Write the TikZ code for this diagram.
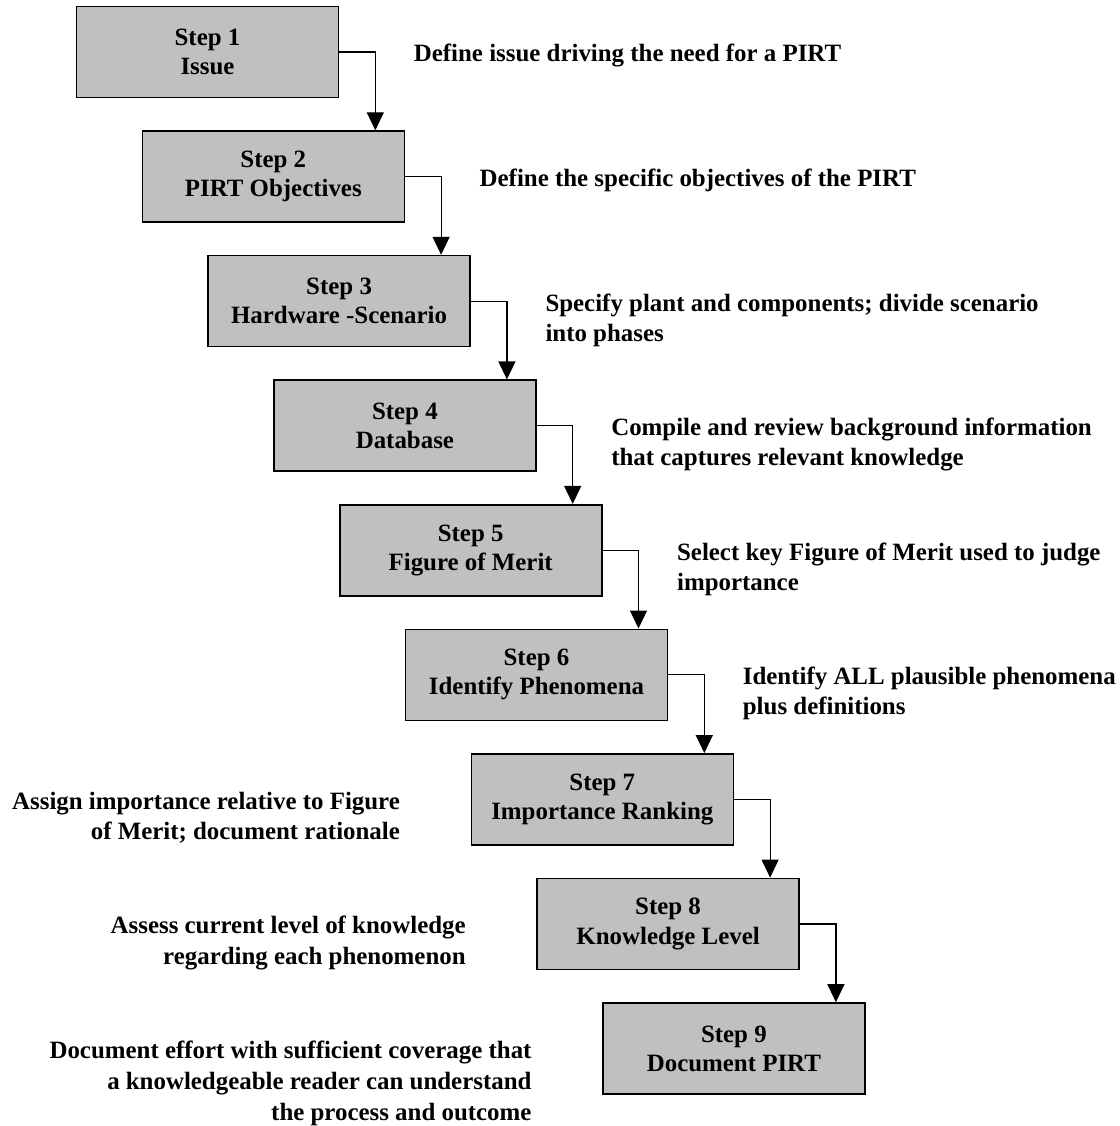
\documentclass[tikz,border=0pt]{standalone}
\usepackage{fontspec}
\setmainfont{Liberation Serif}
\usetikzlibrary{arrows.meta}

\definecolor{boxgray}{RGB}{192,192,192}

\tikzset{
  stepbox/.style={draw=black, line width=0.8pt, fill=boxgray, minimum width=131pt,
    minimum height=45.5pt, inner sep=0pt, align=center,
    font=\bfseries\fontsize{12.45}{14.6}\selectfont},
  note/.style={anchor=north west, inner sep=0pt, align=left,
    font=\bfseries\fontsize{12.45}{15}\selectfont},
  noteleft/.style={anchor=north east, inner sep=0pt, align=right,
    font=\bfseries\fontsize{12.45}{15.4}\selectfont},
  flow/.style={line width=0.6pt, -{Triangle[width=8.5pt,length=9pt]}}
}

\begin{document}
\begin{tikzpicture}[x=0.5pt,y=-0.5pt]
\useasboundingbox (0,0) rectangle (1120,1126);

\node[stepbox] (s1) at (207.5,52) {Step 1\\Issue};
\node[stepbox] (s2) at (273.3,176.6) {Step 2\\PIRT Objectives};
\node[stepbox] (s3) at (339.1,301.1) {Step 3\\Hardware -Scenario};
\node[stepbox] (s4) at (404.9,425.7) {Step 4\\Database};
\node[stepbox] (s5) at (470.7,550.2) {Step 5\\Figure of Merit};
\node[stepbox] (s6) at (536.5,674.8) {Step 6\\Identify Phenomena};
\node[stepbox] (s7) at (602.3,799.4) {Step 7\\Importance Ranking};
\node[stepbox] (s8) at (668.1,923.9) {Step 8\\Knowledge Level};
\node[stepbox] (s9) at (733.9,1048.5) {Step 9\\Document PIRT};

\node[note] (n1) at (413.5,44) {Define issue driving the need for a PIRT};
\node[note] (n2) at (479.3,168.6) {Define the specific objectives of the PIRT};
\node[note] (n3) at (545.1,293.1) {Specify plant and components; divide scenario\\into phases};
\node[note] (n4) at (610.9,417.7) {Compile and review background information\\that captures relevant knowledge};
\node[note] (n5) at (676.7,542.2) {Select key Figure of Merit used to judge\\importance};
\node[note] (n6) at (742.5,666.8) {Identify ALL plausible phenomena\\plus definitions};
\node[noteleft] (n7) at (400.3,791.4) {Assign importance relative to Figure\\of Merit; document rationale};
\node[noteleft] (n8) at (466.1,915.9) {Assess current level of knowledge\\regarding each phenomenon};
\node[noteleft] (n9) at (531.9,1040.5) {Document effort with sufficient coverage that\\a knowledgeable reader can understand\\the process and outcome};

\draw[flow] (s1.east) -- ++(36,0) coordinate (k1) -- (k1 |- s2.north);
\draw[flow] (s2.east) -- ++(36,0) coordinate (k2) -- (k2 |- s3.north);
\draw[flow] (s3.east) -- ++(36,0) coordinate (k3) -- (k3 |- s4.north);
\draw[flow] (s4.east) -- ++(36,0) coordinate (k4) -- (k4 |- s5.north);
\draw[flow] (s5.east) -- ++(36,0) coordinate (k5) -- (k5 |- s6.north);
\draw[flow] (s6.east) -- ++(36,0) coordinate (k6) -- (k6 |- s7.north);
\draw[flow] (s7.east) -- ++(36,0) coordinate (k7) -- (k7 |- s8.north);
\draw[flow] (s8.east) -- ++(36,0) coordinate (k8) -- (k8 |- s9.north);

\end{tikzpicture}
\end{document}
